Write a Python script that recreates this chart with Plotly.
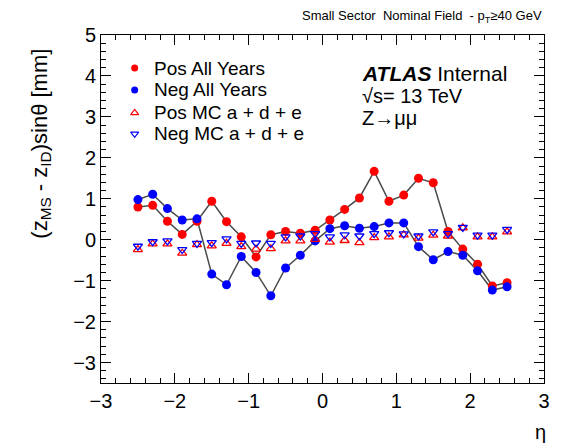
import plotly.graph_objects as go

eta = [-2.5, -2.3, -2.1, -1.9, -1.7, -1.5, -1.3, -1.1, -0.9, -0.7, -0.5, -0.3, -0.1,
       0.1, 0.3, 0.5, 0.7, 0.9, 1.1, 1.3, 1.5, 1.7, 1.9, 2.1, 2.3, 2.5]

pos_data = [0.80, 0.84, 0.45, 0.13, 0.45, 0.94, 0.44, 0.07, -0.42, 0.12, 0.20, 0.16, 0.23,
            0.48, 0.74, 1.02, 1.67, 0.94, 1.09, 1.50, 1.39, 0.20, -0.23, -0.60, -1.13, -1.05]
neg_data = [0.98, 1.11, 0.76, 0.48, 0.51, -0.84, -1.10, -0.41, -0.80, -1.37, -0.69, -0.38, -0.03,
            0.27, 0.34, 0.28, 0.32, 0.41, 0.41, -0.17, -0.49, -0.29, -0.38, -0.76, -1.23, -1.15]
pos_mc = [-0.24, -0.10, -0.10, -0.33, -0.12, -0.15, -0.09, -0.17, -0.23, -0.22, -0.03, -0.03, 0.01,
          -0.06, -0.02, -0.07, 0.05, 0.07, 0.12, 0.04, 0.11, 0.09, 0.29, 0.07, 0.07, 0.19]
neg_mc = [-0.16, -0.05, -0.03, -0.24, -0.09, -0.07, 0.02, -0.09, -0.08, -0.09, 0.07, 0.09, 0.15,
          0.07, 0.12, 0.09, 0.15, 0.17, 0.14, 0.09, 0.19, 0.15, 0.30, 0.11, 0.11, 0.25]

series_names = ["Pos All Years", "Neg All Years", "Pos MC a + d + e", "Neg MC a + d + e"]
series_colors = ["#ff0000", "#0000ff", "#ff0000", "#0000ff"]
series_symbols = ["circle", "circle", "triangle-up-open", "triangle-down-open"]

x_ticks = [-3, -2, -1, 0, 1, 2, 3]
x_ticktext = ["\u22123", "\u22122", "\u22121", "0", "1", "2", "3"]
y_ticks = [-3, -2, -1, 0, 1, 2, 3, 4, 5]
y_ticktext = ["\u22123", "\u22122", "\u22121", "0", "1", "2", "3", "4", "5"]

FONT = "Liberation Sans, Arial, sans-serif"
LINE = "#4a4a4a"

fig = go.Figure()
for ys in (pos_data, neg_data):
    fig.add_trace(go.Scatter(x=eta, y=ys, mode="lines", line=dict(color=LINE, width=1.5),
                             showlegend=False, hoverinfo="skip"))

for ys, name, col, sym in zip((pos_data, neg_data, pos_mc, neg_mc), series_names,
                              series_colors, series_symbols):
    is_open = "open" in sym
    fig.add_trace(go.Scatter(x=eta, y=ys, mode="markers", name=name, showlegend=False,
                             marker=dict(symbol=sym, size=8 if is_open else 9, color=col,
                                         line=dict(width=1.3 if is_open else 0, color=col))))

# custom legend (tighter row spacing like the ROOT original), on a hidden overlay axis
leg_x = 0.076
leg_text_x = 0.116
leg_rows = [0.905, 0.842, 0.776, 0.716]
for name, col, sym, ry in zip(series_names, series_colors, series_symbols, leg_rows):
    is_open = "open" in sym
    fig.add_trace(go.Scatter(x=[leg_x], y=[ry], mode="markers", xaxis="x2", yaxis="y2",
                             showlegend=False, hoverinfo="skip",
                             marker=dict(symbol=sym, size=7, color=col,
                                         line=dict(width=1.2 if is_open else 0, color=col))))

axis_common = dict(ticks="inside", mirror="ticks", showline=True, linecolor="black",
                   linewidth=1, tickcolor="black", ticklen=10, showgrid=False, zeroline=False,
                   tickfont=dict(family=FONT, size=20, color="black"))

annotations = [
    dict(text="Small Sector  Nominal Field  - p<sub>T</sub>\u226540 GeV", x=1.0, y=1.0,
         xref="paper", yref="paper", xanchor="right", yanchor="bottom", yshift=8,
         showarrow=False, font=dict(family=FONT, size=13, color="black")),
    dict(text="<b><i>ATLAS</i></b> Internal", x=0.584, y=0.888, xref="paper", yref="paper",
         xanchor="left", yanchor="middle", showarrow=False,
         font=dict(family=FONT, size=21, color="black")),
    dict(text="\u221as= 13 TeV", x=0.584, y=0.825, xref="paper", yref="paper",
         xanchor="left", yanchor="middle", showarrow=False,
         font=dict(family=FONT, size=20, color="black")),
    dict(text="Z\u2192\u03bc\u03bc", x=0.584, y=0.762, xref="paper", yref="paper",
         xanchor="left", yanchor="middle", showarrow=False,
         font=dict(family=FONT, size=20, color="black")),
    dict(text="(z<sub>MS</sub> - z<sub>ID</sub>)sin\u03b8 [mm]", x=-0.136, y=0.687,
         xref="paper", yref="paper", xanchor="center", yanchor="middle", textangle=-90,
         showarrow=False, font=dict(family=FONT, size=22, color="black")),
    dict(text="\u03b7", x=0.992, y=-0.14, xref="paper", yref="paper", xanchor="center",
         yanchor="middle", showarrow=False, font=dict(family=FONT, size=20, color="black")),
]
for name, ry in zip(series_names, leg_rows):
    annotations.append(dict(text=name, x=leg_text_x, y=ry, xref="paper", yref="paper",
                            xanchor="left", yanchor="middle", showarrow=False,
                            font=dict(family=FONT, size=19, color="black")))

fig.update_layout(
    width=562, height=444,
    margin=dict(l=101, r=14, t=35, b=61),
    paper_bgcolor="white", plot_bgcolor="white",
    annotations=annotations,
    showlegend=False,
    xaxis=dict(range=[-3, 3], tickvals=x_ticks, ticktext=x_ticktext,
               minor=dict(ticks="inside", dtick=0.2, ticklen=5, tickcolor="black"),
               **axis_common),
    yaxis=dict(range=[-3.5, 5], tickvals=y_ticks, ticktext=y_ticktext,
               minor=dict(ticks="inside", dtick=0.2, ticklen=5, tickcolor="black"),
               **axis_common),
    xaxis2=dict(range=[0, 1], overlaying="x", visible=False, fixedrange=True),
    yaxis2=dict(range=[0, 1], overlaying="y", visible=False, fixedrange=True),
)

fig.write_html("out.html", config={"displayModeBar": False},
               post_script="document.body.style.margin='0px';")
